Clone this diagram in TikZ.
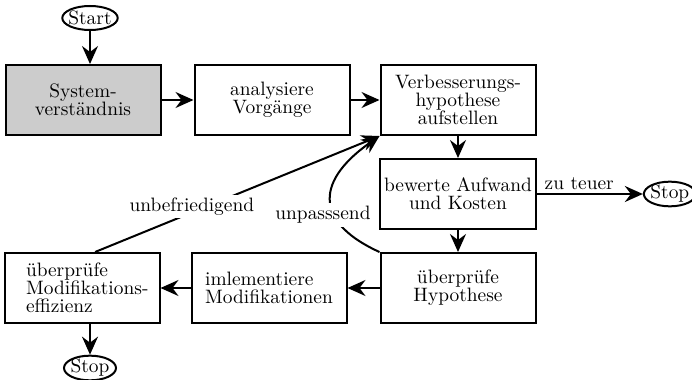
\documentclass[tikz,border=0pt]{standalone}
\usepackage{tikz}
\usetikzlibrary{arrows.meta,positioning,shapes.geometric}
\tikzset{
    flow-box/.style = {draw, line width=1pt, rectangle, minimum width=77.5pt, minimum height=35pt, inner sep=2pt, align=center, font=\fontsize{9.7}{9}\selectfont},
    flow-term/.style = {draw, line width=1pt, ellipse, inner sep=0pt, inner xsep=-1pt, minimum width=26pt, minimum height=12pt, font=\fontsize{9.7}{9}\selectfont},
    flow-arrow/.style = {line width=1pt, -{Stealth[length=9pt, width=8pt, inset=3pt]}},
    flow-label/.style = {inner sep=1.5pt, font=\fontsize{9.7}{9}\selectfont},
}

\begin{document}
\begin{tikzpicture}[x=0.5pt, y=-0.5pt]
\useasboundingbox (0,0) rectangle (692,380);
% boxes
\node[flow-box, fill=gray!40] (sys) at (83,100) {System-\\verständnis};
\node[flow-box, right=16pt of sys] (ana) {analysiere\\Vorgänge};
\node[flow-box, right=14.5pt of ana] (hyp) {Verbesserungs-\\hypothese\\aufstellen};
\node[flow-box, below=11pt of hyp] (bew) {bewerte Aufwand\\und Kosten};
\node[flow-box, below=11pt of bew] (chkhyp) {überprüfe\\Hypothese};
\node[flow-box, left=16pt of chkhyp, align=left] (impl) {imlementiere\\Modifikationen};
\node[flow-box, left=15pt of impl, text width=56pt, align=left] (chkmod) {überprüfe\\\mbox{Modifikations-}\\effizienz};
% start and stop
\node[flow-term] (start) at (90,18) {Start};
\node[flow-term, right=53pt of bew] (stopA) {Stop};
\node[flow-term] (stopB) at (90,368) {Stop};

\draw[flow-arrow] (start) -- (start |- sys.north);
\draw[flow-arrow] (sys) -- (ana);
\draw[flow-arrow] (ana) -- (hyp);
\draw[flow-arrow] (hyp) -- (bew);
\draw[flow-arrow] (bew) -- node[flow-label, above, pos=0.4] {zu teuer} (stopA);
\draw[flow-arrow] (bew) -- (chkhyp);
\draw[flow-arrow] (chkhyp) -- (impl);
\draw[flow-arrow] (impl) -- (chkmod);
\draw[flow-arrow] (chkmod.south -| stopB) -- (stopB);
% loops back
\draw[flow-arrow] (chkmod.70) -- node[flow-label, fill=white, pos=0.34, yshift=3pt] {unbefriedigend} (hyp.south west);
\draw[flow-arrow] (chkhyp.north west) .. controls (320,225) and (310,185) .. node[flow-label, fill=white, pos=0.45, xshift=-4.5pt, yshift=-3.5pt] {unpasssend} (hyp.south west);
\end{tikzpicture}
\end{document}
